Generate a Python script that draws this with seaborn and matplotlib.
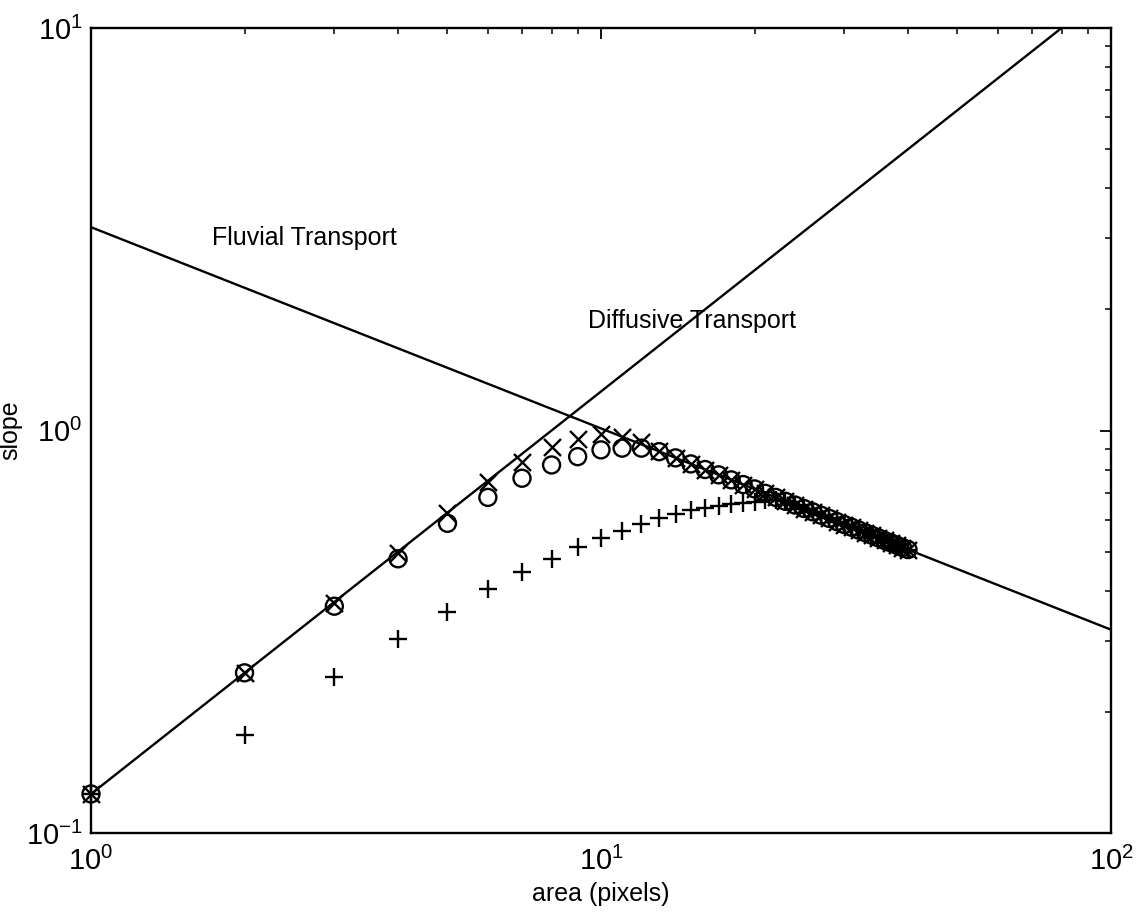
import numpy as np
import pandas as pd
import matplotlib
matplotlib.use("Agg")
import matplotlib.pyplot as plt
import seaborn as sns
from matplotlib.ticker import LogLocator, NullFormatter

# ---- data ----
area = list(range(1, 41))

slope_x = [0.125, 0.25, 0.373, 0.497, 0.622, 0.746, 0.837, 0.912, 0.951, 0.978,
           0.962, 0.935, 0.888, 0.855, 0.826, 0.800, 0.776, 0.754, 0.734, 0.716,
           0.698, 0.682, 0.667, 0.653, 0.640, 0.628, 0.616, 0.605, 0.594, 0.584,
           0.575, 0.566, 0.557, 0.549, 0.541, 0.533, 0.526, 0.519, 0.512, 0.506]

slope_o = [0.125, 0.25, 0.366, 0.480, 0.588, 0.682, 0.761, 0.821, 0.861, 0.895,
           0.904, 0.904, 0.886, 0.855, 0.826, 0.800, 0.776, 0.754, 0.734, 0.716,
           0.698, 0.682, 0.667, 0.653, 0.640, 0.628, 0.616, 0.605, 0.594, 0.584,
           0.575, 0.566, 0.557, 0.549, 0.541, 0.533, 0.526, 0.519, 0.512, 0.506]

slope_plus = [0.125, 0.175, 0.2445, 0.303, 0.355, 0.403, 0.444, 0.480, 0.513, 0.540,
              0.564, 0.586, 0.605, 0.620, 0.635, 0.641, 0.649, 0.657, 0.662, 0.665,
              0.672, 0.672, 0.667, 0.653, 0.640, 0.628, 0.616, 0.605, 0.594, 0.584,
              0.575, 0.566, 0.557, 0.549, 0.541, 0.533, 0.526, 0.519, 0.512, 0.506]

fluvial_x = [1, 100]
fluvial_y = [3.2, 0.32]
diffusive_x = [1, 80]
diffusive_y = [0.125, 10.0]

label_fluvial = "Fluvial Transport"
label_diffusive = "Diffusive Transport"
xlabel = "area (pixels)"
ylabel = "slope"

# ---- style ----
sns.set_style("white")
plt.rcParams['font.family'] = ['Liberation Sans', 'DejaVu Sans']
plt.rcParams['mathtext.fontset'] = 'custom'
plt.rcParams['mathtext.rm'] = 'Liberation Sans'
plt.rcParams['mathtext.it'] = 'Liberation Sans'
plt.rcParams['axes.unicode_minus'] = False
plt.rcParams['text.color'] = 'black'
plt.rcParams['axes.labelcolor'] = 'black'
plt.rcParams['xtick.color'] = 'black'
plt.rcParams['ytick.color'] = 'black'

fig = plt.figure(figsize=(11.4, 9.16), dpi=100)
ax = fig.add_axes([91/1140, 1 - 833/916, (1111-91)/1140, (833-28)/916])

sns.lineplot(x=fluvial_x, y=fluvial_y, ax=ax, color='black', linewidth=1.7)
sns.lineplot(x=diffusive_x, y=diffusive_y, ax=ax, color='black', linewidth=1.7)

sns.scatterplot(x=area, y=slope_plus, ax=ax, marker='+', color='black', s=170,
                linewidth=1.7, clip_on=False, zorder=3)
sns.scatterplot(x=area, y=slope_o, ax=ax, marker='o', s=150, facecolors='none',
                edgecolors='black', linewidth=1.7, clip_on=False, zorder=3)
sns.scatterplot(x=area, y=slope_x, ax=ax, marker='x', color='black', s=150,
                linewidth=1.7, clip_on=False, zorder=3)

ax.set_xscale('log')
ax.set_yscale('log')
ax.set_xlim(1, 100)
ax.set_ylim(0.1, 10)

ax.xaxis.set_major_locator(LogLocator(base=10, numticks=10))
ax.yaxis.set_major_locator(LogLocator(base=10, numticks=10))
ax.xaxis.set_minor_locator(LogLocator(base=10, subs=np.arange(2, 10), numticks=20))
ax.yaxis.set_minor_locator(LogLocator(base=10, subs=np.arange(2, 10), numticks=20))
ax.xaxis.set_minor_formatter(NullFormatter())
ax.yaxis.set_minor_formatter(NullFormatter())

ax.tick_params(which='both', direction='in', top=True, right=True, color='black')
ax.tick_params(which='major', length=8, width=1.3, labelsize=21)
ax.tick_params(axis='x', which='major', pad=10)
ax.tick_params(axis='y', which='major', pad=6)
ax.tick_params(which='minor', length=4, width=1.1)
for sp in ax.spines.values():
    sp.set_color('black')
    sp.set_linewidth(1.7)

ax.set_xlabel(xlabel, fontsize=18, labelpad=4)
ax.set_ylabel(ylabel, fontsize=18)
ax.yaxis.set_label_coords((22 - 91) / 1020, 0.5)

ax.text(1.73, 2.89, label_fluvial, fontsize=18, ha='left', va='baseline')
ax.text(9.41, 1.80, label_diffusive, fontsize=18, ha='left', va='baseline')

fig.savefig("out.png", dpi=100)
